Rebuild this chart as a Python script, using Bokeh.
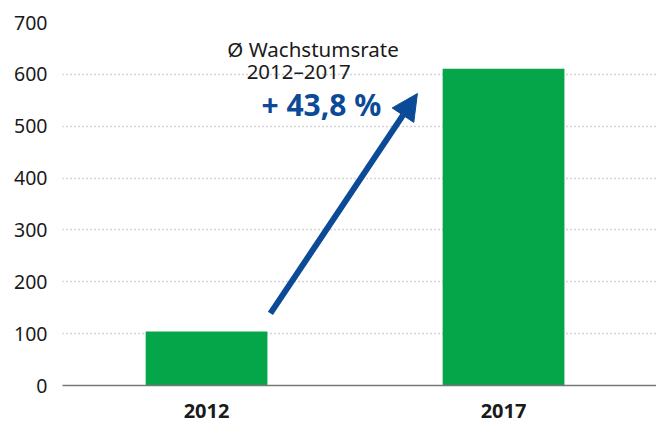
from bokeh.plotting import figure
from bokeh.models import (ColumnDataSource, Range1d, FixedTicker, Arrow, NormalHead, Label)
from bokeh.embed import file_html
from bokeh.resources import INLINE

categories = ["2012", "2017"]
values = [104, 611]
y_ticks = [0, 100, 200, 300, 400, 500, 600, 700]

FONT = "Noto Sans"
BLUE = "#0b4a97"
GREEN = "#05a64a"

positions = list(range(len(categories)))
src = ColumnDataSource(dict(x=positions, top=values, label=categories))

p = figure(width=656, height=425, output_backend="svg", toolbar_location=None,
           x_range=Range1d(-0.485, 1.515), y_range=Range1d(0, 700),
           min_border_left=62, min_border_right=0, min_border_top=22, min_border_bottom=40)
p.outline_line_color = None
p.background_fill_color = "white"
p.border_fill_color = "white"

p.vbar(x="x", top="top", width=0.41, source=src, fill_color=GREEN, line_color=None)

# axes
p.yaxis.ticker = FixedTicker(ticks=y_ticks)
p.yaxis.axis_line_color = None
p.yaxis.major_tick_line_color = None
p.yaxis.minor_tick_line_color = None
p.yaxis.major_label_text_font = FONT
p.yaxis.major_label_text_font_size = "19.5px"
p.yaxis.major_label_text_color = "#1a1a1a"
p.yaxis.major_label_standoff = 9

p.xaxis.ticker = FixedTicker(ticks=positions)
p.xaxis.major_label_overrides = {i: c for i, c in zip(positions, categories)}
p.xaxis.axis_line_color = "#777777"
p.xaxis.axis_line_width = 1.5
p.xaxis.major_tick_line_color = None
p.xaxis.minor_tick_line_color = None
p.xaxis.major_label_text_font = FONT
p.xaxis.major_label_text_font_style = "bold"
p.xaxis.major_label_text_font_size = "20px"
p.xaxis.major_label_text_color = "#1a1a1a"
p.xaxis.major_label_standoff = 12

p.xgrid.grid_line_color = None
p.ygrid.grid_line_color = "#a8a8a8"
p.ygrid.grid_line_dash = "1 3"
p.ygrid.grid_line_width = 1.3

# annotation
p.add_layout(Arrow(end=NormalHead(size=26, fill_color=BLUE, line_color=BLUE),
                   x_start=0.215, y_start=139, x_end=0.71, y_end=563,
                   line_color=BLUE, line_width=6))
p.add_layout(Label(x=0.07, y=648, text="\u00d8 Wachstumsrate", text_font=FONT,
                   text_font_size="20.5px", text_color="#1a1a1a", text_baseline="middle"))
p.add_layout(Label(x=0.135, y=606, text="2012\u20132017", text_font=FONT,
                   text_font_size="20.5px", text_color="#1a1a1a", text_baseline="middle"))
p.add_layout(Label(x=0.185, y=541, text="+ 43,8 %", text_font=FONT, text_font_style="bold",
                   text_font_size="30px", text_color=BLUE, text_baseline="middle"))

open("out.html", "w").write(file_html(p, INLINE))
